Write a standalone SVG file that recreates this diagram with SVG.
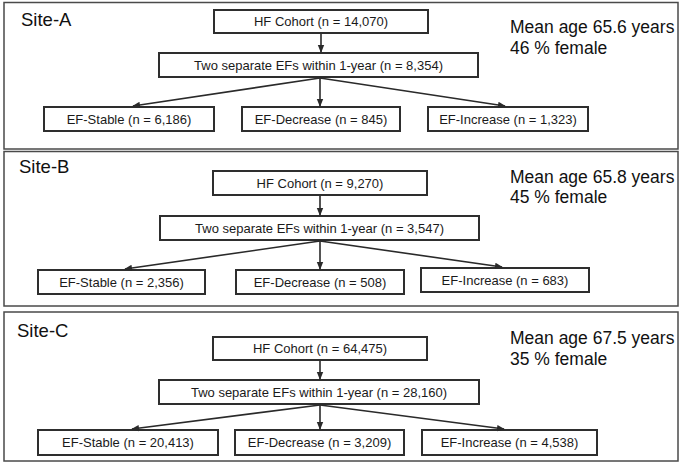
<svg xmlns="http://www.w3.org/2000/svg" width="685" height="470" viewBox="0 0 685 470">
<defs>
<marker id="ah" markerUnits="userSpaceOnUse" markerWidth="8" markerHeight="8" viewBox="0 0 8 8" refX="7" refY="4" orient="auto">
<path d="M0,0.8 L8,4 L0,7.2 Z" fill="#2a2a2a"/>
</marker>
</defs>
<style>
.panel{fill:#fff;stroke:#4a4a4a;stroke-width:1.5}
.box{fill:#fff;stroke:#2e2e2e;stroke-width:2}
.t{font-family:"Liberation Sans",Arial,sans-serif;font-size:13px;fill:#1a1a1a;text-anchor:middle}
.site{font-family:"Liberation Sans",Arial,sans-serif;font-size:18.5px;fill:#111}
.info{font-family:"Liberation Sans",Arial,sans-serif;font-size:17.5px;fill:#111}
.c{stroke:#2a2a2a;stroke-width:1.6;fill:none;marker-end:url(#ah)}
</style>
<rect width="685" height="470" fill="#fff"/>

<g id="panelA">
<rect class="panel" x="4" y="2.5" width="674" height="146.5"/>
<text class="site" x="21" y="26">Site-A</text>
<text class="info" x="510" y="33">Mean age 65.6 years</text>
<text class="info" x="510" y="54">46 % female</text>
</g>
<g id="panelB">
<rect class="panel" x="4" y="151.5" width="674" height="154.5"/>
<text class="site" x="19" y="173">Site-B</text>
<text class="info" x="510" y="183">Mean age 65.8 years</text>
<text class="info" x="510" y="203">45 % female</text>
</g>
<g id="panelC">
<rect class="panel" x="4" y="312" width="674" height="149"/>
<text class="site" x="17" y="337">Site-C</text>
<text class="info" x="510" y="344">Mean age 67.5 years</text>
<text class="info" x="510" y="365">35 % female</text>
</g>

<g id="A-hf"><rect class="box" x="214" y="10" width="214" height="23"/><text class="t" x="321" y="26">HF Cohort (n = 14,070)</text></g>
<g id="A-two"><rect class="box" x="159" y="53" width="319" height="24"/><text class="t" x="318.5" y="69.5">Two separate EFs within 1-year (n = 8,354)</text></g>
<g id="A-stable"><rect class="box" x="44" y="107" width="170" height="24"/><text class="t" x="129" y="123.5">EF-Stable (n = 6,186)</text></g>
<g id="A-decrease"><rect class="box" x="242" y="107" width="158" height="24"/><text class="t" x="321" y="123.5">EF-Decrease (n = 845)</text></g>
<g id="A-increase"><rect class="box" x="428" y="107" width="160" height="24"/><text class="t" x="508" y="123.5">EF-Increase (n = 1,323)</text></g>

<g id="B-hf"><rect class="box" x="213" y="171" width="214" height="24"/><text class="t" x="320" y="187.5">HF Cohort (n = 9,270)</text></g>
<g id="B-two"><rect class="box" x="160" y="216" width="319" height="24"/><text class="t" x="319.5" y="232.5">Two separate EFs within 1-year (n = 3,547)</text></g>
<g id="B-stable"><rect class="box" x="38" y="270" width="167" height="24"/><text class="t" x="121.5" y="286.5">EF-Stable (n = 2,356)</text></g>
<g id="B-decrease"><rect class="box" x="236" y="270" width="168" height="24"/><text class="t" x="320" y="286.5">EF-Decrease (n = 508)</text></g>
<g id="B-increase"><rect class="box" x="421" y="268" width="168" height="24"/><text class="t" x="505" y="284.5">EF-Increase (n = 683)</text></g>

<g id="C-hf"><rect class="box" x="213" y="337" width="214" height="23"/><text class="t" x="320" y="353">HF Cohort (n = 64,475)</text></g>
<g id="C-two"><rect class="box" x="159" y="380" width="320" height="24"/><text class="t" x="319" y="396.5">Two separate EFs within 1-year (n = 28,160)</text></g>
<g id="C-stable"><rect class="box" x="38" y="430" width="180" height="25"/><text class="t" x="128" y="447">EF-Stable (n = 20,413)</text></g>
<g id="C-decrease"><rect class="box" x="235" y="430" width="169" height="25"/><text class="t" x="319.5" y="447">EF-Decrease (n = 3,209)</text></g>
<g id="C-increase"><rect class="box" x="422" y="430" width="175" height="25"/><text class="t" x="509.5" y="447">EF-Increase (n = 4,538)</text></g>

<g id="connectors">
<line class="c" x1="321" y1="34" x2="321" y2="52"/>
<line class="c" x1="320" y1="78" x2="133" y2="106"/>
<line class="c" x1="320" y1="78" x2="320" y2="106"/>
<line class="c" x1="320" y1="78" x2="505" y2="106"/>

<line class="c" x1="320" y1="196" x2="320" y2="215"/>
<line class="c" x1="320" y1="241" x2="125" y2="269"/>
<line class="c" x1="320" y1="241" x2="320" y2="269"/>
<line class="c" x1="320" y1="241" x2="502" y2="267"/>

<line class="c" x1="320" y1="361" x2="320" y2="379"/>
<line class="c" x1="320" y1="405" x2="132" y2="429"/>
<line class="c" x1="320" y1="405" x2="320" y2="429"/>
<line class="c" x1="320" y1="405" x2="504" y2="429"/>
</g>
</svg>
